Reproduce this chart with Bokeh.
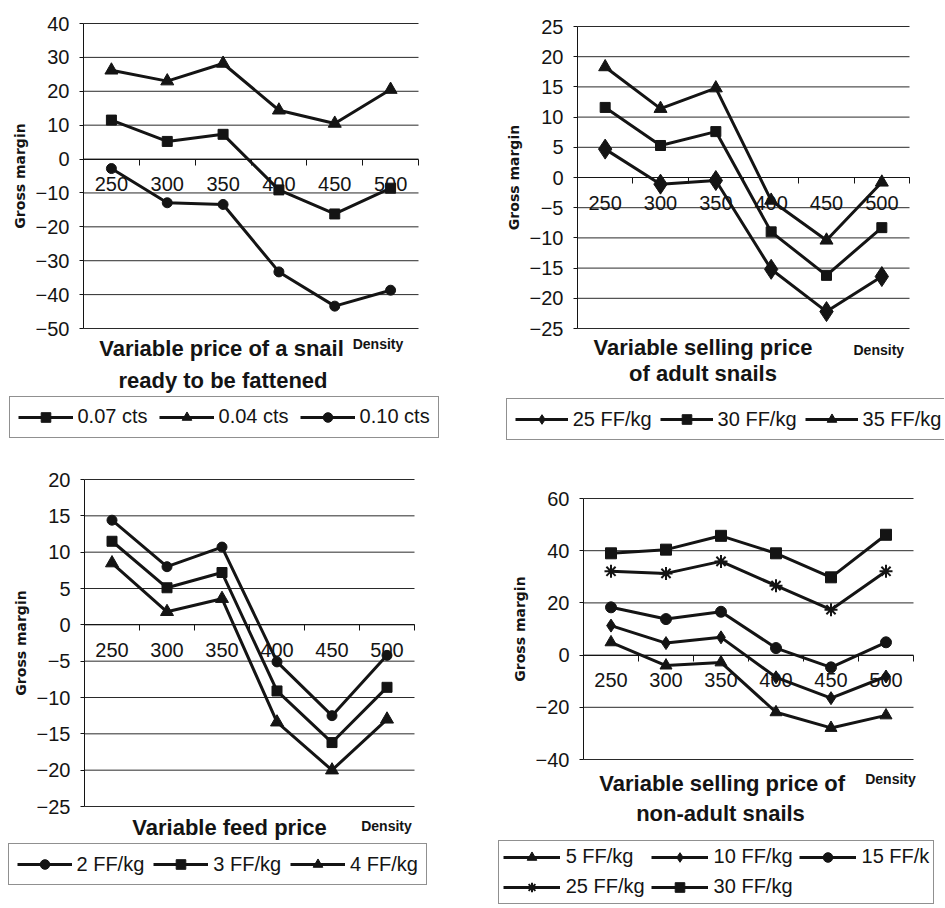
import numpy as np
from bokeh.plotting import figure
from bokeh.models import Range1d, LinearAxis, FixedTicker, Legend, LegendItem, Label
from bokeh.layouts import row, column
from bokeh.embed import file_html
from bokeh.resources import INLINE

# ---------------- data ----------------
densities = [250, 300, 350, 400, 450, 500]

# Panel 1: variable price of a snail ready to be fattened
snail_names = ["0.07 cts", "0.04 cts", "0.10 cts"]
snail_007 = [11.5, 5.2, 7.3, -9.1, -16.2, -8.6]
snail_004 = [26.2, 23.0, 28.2, 14.4, 10.5, 20.5]
snail_010 = [-2.8, -12.9, -13.4, -33.3, -43.4, -38.7]
snail_ticks = [-50, -40, -30, -20, -10, 0, 10, 20, 30, 40]

# Panel 2: variable selling price of adult snails
adult_names = ["25 FF/kg", "30 FF/kg", "35 FF/kg"]
adult_25 = [4.7, -1.1, -0.5, -15.2, -22.2, -16.4]
adult_30 = [11.6, 5.3, 7.6, -9.0, -16.2, -8.3]
adult_35 = [18.3, 11.4, 14.8, -3.8, -10.4, -0.8]
adult_ticks = [-25, -20, -15, -10, -5, 0, 5, 10, 15, 20, 25]

# Panel 3: variable feed price
feed_names = ["2 FF/kg", "3 FF/kg", "4 FF/kg"]
feed_2 = [14.4, 8.0, 10.7, -5.1, -12.5, -4.2]
feed_3 = [11.5, 5.1, 7.2, -9.1, -16.2, -8.6]
feed_4 = [8.5, 1.8, 3.6, -13.4, -20.0, -13.0]
feed_ticks = [-25, -20, -15, -10, -5, 0, 5, 10, 15, 20]

# Panel 4: variable selling price of non-adult snails
young_names = ["5 FF/kg", "10 FF/kg", "15 FF/k", "25 FF/kg", "30 FF/kg"]
young_5 = [4.9, -4.0, -2.8, -21.9, -27.9, -23.1]
young_10 = [11.3, 4.6, 6.8, -8.5, -16.5, -8.2]
young_15 = [18.3, 13.8, 16.6, 2.7, -4.7, 4.9]
young_25 = [32.1, 31.3, 35.9, 26.6, 17.4, 32.1]
young_30 = [39.0, 40.4, 45.7, 39.0, 29.8, 46.1]
young_ticks = [-40, -20, 0, 20, 40, 60]

y_label = "Gross margin"
x_note = "Density"

# ---------------- styling ----------------
INK = "#141414"
FONT = "Liberation Sans"

MK = {
    "square": dict(marker="square", size=10),
    "triangle": dict(marker="triangle", size=13),
    "circle": dict(marker="circle", size=10),
    "diamond_big": dict(marker="diamond", size=20),
    "diamond": dict(marker="diamond", size=13),
    "star": dict(marker="asterisk", size=13, line_width=2),
    "square4": dict(marker="square", size=11),
    "circle4": dict(marker="circle", size=11),
    "triangle4": dict(marker="triangle", size=12),
}


def make_panel(box, frame, ticks, series, leg, titles, note):
    ox, oy, W, H = box          # canvas position on the page
    fl, ft, fr, fb = frame      # chart area on the page
    half = (densities[1] - densities[0]) / 2
    x0, x1 = densities[0] - half, densities[-1] + half
    y0, y1 = ticks[0], ticks[-1]
    ux = (x1 - x0) / (fr - fl)
    uy = (y1 - y0) / (fb - ft)
    Xs, Xe = x0 - (fl - ox) * ux, x1 + (ox + W - fr) * ux
    Ys, Ye = y0 - (oy + H - fb) * uy, y1 + (ft - oy) * uy

    def to_data(px, py):
        return Xs + (px - ox) * ux, Ye - (py - oy) * uy

    p = figure(width=W, height=H, x_range=Range1d(Xs, Xe), y_range=Range1d(Ys, Ye),
               x_axis_type=None, y_axis_type=None, toolbar_location=None,
               output_backend="svg", min_border=0, outline_line_color=None,
               background_fill_color="white", border_fill_color="white")

    # horizontal grid lines across the chart area only
    p.segment(x0=[x0] * len(ticks), y0=ticks, x1=[x1] * len(ticks), y1=ticks,
              line_color="#2a2a2a", line_width=1)

    yax = LinearAxis(fixed_location=x0, bounds=(y0, y1), ticker=FixedTicker(ticks=ticks))
    yax.axis_label = y_label
    yax.axis_label_text_font = "DejaVu Sans"
    yax.axis_label_text_font_style = "bold"
    yax.axis_label_text_font_size = "14px"
    yax.axis_label_text_color = INK
    yax.axis_label_standoff = 5
    yax.major_label_text_font = FONT
    yax.major_label_text_font_size = "20px"
    yax.major_label_text_color = INK
    yax.major_label_standoff = 10
    yax.major_tick_out = 4
    yax.major_tick_in = 0
    yax.minor_tick_out = 0
    yax.minor_tick_in = 0
    yax.axis_line_color = INK
    yax.major_tick_line_color = INK
    p.add_layout(yax, "left")

    bounds = [d - half for d in densities] + [densities[-1] + half]
    xax = LinearAxis(fixed_location=0, bounds=(x0, x1),
                     ticker=FixedTicker(ticks=densities, minor_ticks=bounds))
    xax.major_tick_out = 0
    xax.major_tick_in = 0
    xax.minor_tick_out = 6
    xax.minor_tick_in = 0
    xax.minor_tick_line_color = INK
    xax.axis_line_color = INK
    xax.major_label_standoff = 12
    xax.major_label_text_font = FONT
    xax.major_label_text_font_size = "20px"
    xax.major_label_text_color = INK
    p.add_layout(xax, "below")

    items = []
    for name, vals, mk in series:
        lr = p.line(densities, vals, line_width=3, line_color=INK)
        sr = p.scatter(densities, vals, fill_color=INK, line_color=INK, **mk)
        items.append(LegendItem(label=name, renderers=[lr, sr]))

    pad, item_h, spacing = leg.get("pad", 8), 24, leg.get("spacing", 9)
    ncols = leg.get("ncols", len(items))
    nrows = int(np.ceil(len(items) / ncols))
    lh = 2 * pad + nrows * item_h + (nrows - 1) * spacing
    bx, by = leg["at"]
    legend = Legend(items=items, location=(bx - ox, (oy + H) - by - lh),
                    orientation="horizontal", ncols=ncols,
                    glyph_width=leg.get("glyph", 55), glyph_height=item_h,
                    label_height=item_h, label_standoff=leg.get("standoff", 5),
                    spacing=spacing, padding=pad,
                    margin=0, border_line_color="#222222", border_line_width=1,
                    label_text_font=FONT, label_text_font_size="20px",
                    label_text_color=INK,
                    background_fill_color="white", background_fill_alpha=1)
    p.add_layout(legend)

    # titles: positions are the vertical middle of each text line
    for text, px, py in titles:
        xd, yd = to_data(px, py)
        p.add_layout(Label(x=xd, y=yd, text=text, text_font=FONT, text_font_style="bold",
                           text_font_size="22px", text_align="center",
                           text_baseline="middle", text_color=INK))
    nx, ny = to_data(*note)
    p.add_layout(Label(x=nx, y=ny, text=x_note, text_font=FONT, text_font_style="bold",
                       text_font_size="14px", text_align="center",
                       text_baseline="middle", text_color=INK))
    return p


p1 = make_panel(
    (0, 0, 470, 440), (83, 23, 418, 328), snail_ticks,
    [(snail_names[0], snail_007, MK["square"]),
     (snail_names[1], snail_004, MK["triangle"]),
     (snail_names[2], snail_010, MK["circle"])],
    dict(at=(8.5, 397.7), spacing=11),
    [("Variable price of a snail", 221, 348), ("ready to be fattened", 222.5, 380)],
    (377.5, 343))

p2 = make_panel(
    (470, 0, 474, 440), (577, 26, 909, 328), adult_ticks,
    [(adult_names[0], adult_25, MK["diamond_big"]),
     (adult_names[1], adult_30, MK["square"]),
     (adult_names[2], adult_35, MK["triangle"])],
    dict(at=(505.7, 400), spacing=8, glyph=53),
    [("Variable selling price", 702.5, 346.5), ("of adult snails", 702.5, 373)],
    (878.3, 349))

p3 = make_panel(
    (0, 440, 470, 467), (84, 479, 414, 806), feed_ticks,
    [(feed_names[0], feed_2, MK["circle"]),
     (feed_names[1], feed_3, MK["square"]),
     (feed_names[2], feed_4, MK["triangle"])],
    dict(at=(7.5, 845), spacing=9),
    [("Variable feed price", 229, 827)],
    (386, 825))

p4 = make_panel(
    (470, 440, 474, 467), (583, 498, 913, 759), young_ticks,
    [(young_names[0], young_5, MK["triangle4"]),
     (young_names[1], young_10, MK["diamond"]),
     (young_names[2], young_15, MK["circle4"]),
     (young_names[3], young_25, MK["star"]),
     (young_names[4], young_30, MK["square4"])],
    dict(at=(497.7, 841.7), spacing=6, ncols=3, pad=4, glyph=57, standoff=6),
    [("Variable selling price of", 721.7, 783), ("non-adult snails", 720, 812.5)],
    (890, 778))

layout = column(row(p1, p2, spacing=0), row(p3, p4, spacing=0), spacing=0)
open("out.html", "w").write(file_html(layout, INLINE))
